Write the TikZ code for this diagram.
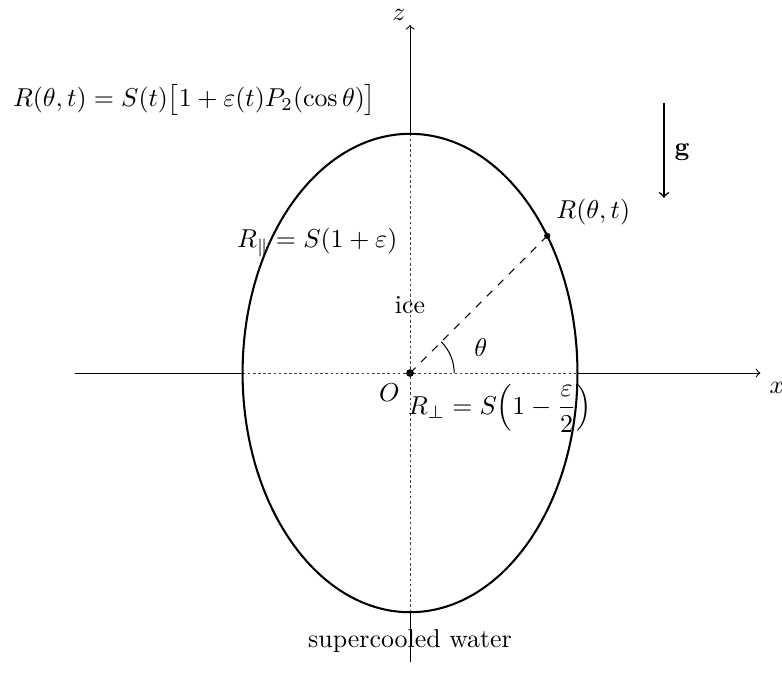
\documentclass[tikz,border=0pt]{standalone}
\usepackage{amsmath,amssymb}
\begin{document}
\begin{tikzpicture}
\useasboundingbox (-5.571,-4.375) rectangle (5.054,5.068);
\coordinate (O) at (0,0);
\coordinate (xl) at (-4.55,0);
\coordinate (xr) at (4.76,0);
\coordinate (zb) at (0,-3.93);
\coordinate (zt) at (0,4.73);
\coordinate (el) at (-2.275,0);
\coordinate (er) at (2.275,0);
\coordinate (eb) at (0,-3.25);
\coordinate (et) at (0,3.25);
\coordinate (P) at (45:2.6357);
\coordinate (gtop) at (3.45,3.67);
\coordinate (gbot) at (3.45,2.38);

\draw[->] (xl) -- (xr) node[below right] {$x$};
\draw[->] (zb) -- (zt) node[above left, inner sep=1.5pt] {$z$};
\fill[white] (O) ellipse [x radius=2.275, y radius=3.25];
\draw[dash pattern=on 1pt off 1pt, black!75] (el) -- (er);
\draw[dash pattern=on 1pt off 1pt, black!75] (eb) -- (et);
\draw[thick] (O) ellipse [x radius=2.275, y radius=3.25];

\draw[dashed] (O) -- (P);
\draw (0.6,0) arc (0:45:0.6);
\fill (O) circle (1.5pt);
\fill (P) circle (1.2pt);

\node (formula) at (-2.93,3.71) {$R(\theta,t) = S(t)\bigl[1+\varepsilon(t)P_2(\cos\theta)\bigr]$};
\node (Rpar) at (-1.26,1.77) {$R_\parallel = S(1+\varepsilon)$};
\node (Rperp) at (1.22,-0.48) {$R_\perp = S\Bigl(1-\dfrac{\varepsilon}{2}\Bigr)$};
\node (Rlab) at (2.49,2.19) {$R(\theta,t)$};
\node (theta) at (0.96,0.35) {$\theta$};
\node (Olab) at (-0.28,-0.27) {$O$};
\node (ice) at (0,0.92) {ice};
\node (water) at (0,-3.64) {supercooled water};
\node (g) at (3.70,3.00) {$\mathbf{g}$};

\draw[->, semithick] (gtop) -- (gbot);
\end{tikzpicture}
\end{document}
